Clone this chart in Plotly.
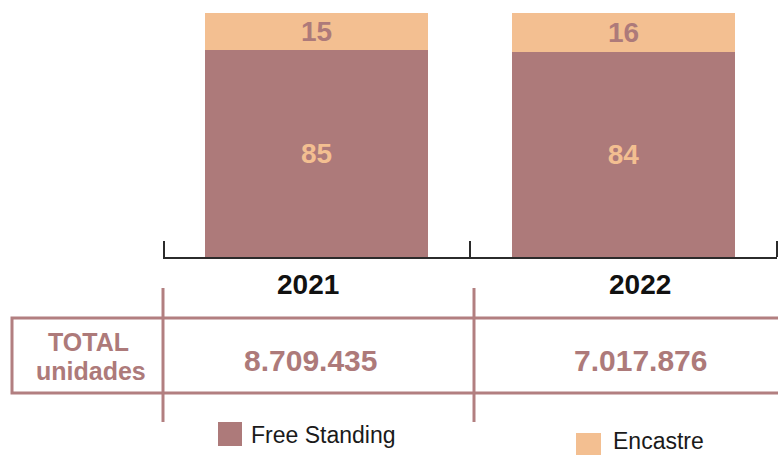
import plotly.graph_objects as go

# ---- data ----
years = ["2021", "2022"]
free_standing = [85, 84]
encastre = [15, 16]
totals = ["8.709.435", "7.017.876"]
series_names = ["Free Standing", "Encastre"]
total_label = ["TOTAL", "unidades"]

ROSE = "#ad7a7a"
PEACH = "#f3bf91"
LINE = "#b27f80"
DARK = "#2b2b2b"
FONT = "Liberation Sans"

W, H = 778, 455
PL, PR, PT, PB = 163, 777, 13, 257


def xp(px):
    return (px - PL) / (PR - PL)


def yp(py):
    return (PB - py) / (PB - PT)


fig = go.Figure()
fig.add_trace(go.Bar(
    x=years, y=free_standing, name=series_names[0],
    marker=dict(color=ROSE, line=dict(width=0)), width=0.727,
    texttemplate="%{y}", textposition="inside", insidetextanchor="middle",
    textangle=0, constraintext="none",
    textfont=dict(color=PEACH, size=28, family=FONT, weight="bold"),
    showlegend=False, hoverinfo="skip"))
fig.add_trace(go.Bar(
    x=years, y=encastre, name=series_names[1],
    marker=dict(color=PEACH, line=dict(width=0)), width=0.727,
    texttemplate="%{y}", textposition="inside", insidetextanchor="middle",
    textangle=0, constraintext="none",
    textfont=dict(color=ROSE, size=28, family=FONT, weight="bold"),
    showlegend=False, hoverinfo="skip"))

shapes = []
annotations = []

# outer boundary ticks of the category axis
for tx in (PL + 1, PR):
    shapes.append(dict(type="line", xref="paper", yref="paper",
                       x0=xp(tx), x1=xp(tx), y0=yp(241), y1=0,
                       line=dict(color=DARK, width=2), layer="below"))

# table box and column lines
shapes.append(dict(type="rect", xref="paper", yref="paper",
                   x0=xp(12), x1=xp(800), y0=yp(318), y1=yp(393),
                   line=dict(color=LINE, width=3), fillcolor="rgba(0,0,0,0)"))
for vx in (163, 474):
    shapes.append(dict(type="line", xref="paper", yref="paper",
                       x0=xp(vx), x1=xp(vx), y0=yp(288), y1=yp(422),
                       line=dict(color=LINE, width=3)))

# year labels & totals
year_cx = [308, 640]
total_cx = [310, 640]
for i, yr in enumerate(years):
    annotations.append(dict(x=xp(year_cx[i]), y=yp(284), xref="paper", yref="paper",
                            text=yr, showarrow=False, xanchor="center", yanchor="middle",
                            font=dict(family=FONT, size=28, color="#111", weight="bold")))
    annotations.append(dict(x=xp(total_cx[i]), y=yp(360), xref="paper", yref="paper",
                            text=totals[i], showarrow=False, xanchor="center", yanchor="middle",
                            font=dict(family=FONT, size=30, color=ROSE, weight="bold")))

annotations.append(dict(x=xp(88), y=yp(342), xref="paper", yref="paper",
                        text=total_label[0], showarrow=False, xanchor="center", yanchor="middle",
                        font=dict(family=FONT, size=25, color=ROSE, weight="bold")))
annotations.append(dict(x=xp(91), y=yp(371), xref="paper", yref="paper",
                        text=total_label[1], showarrow=False, xanchor="center", yanchor="middle",
                        font=dict(family=FONT, size=25, color=ROSE, weight="bold")))

# manual legend
leg = [((218, 422, 242, 446), 249, 435, ROSE),
       ((576, 433, 601, 458), 611, 441, PEACH)]
for name, (box, tx, ty, col) in zip(series_names, leg):
    shapes.append(dict(type="rect", xref="paper", yref="paper",
                       x0=xp(box[0]), x1=xp(box[2]), y0=yp(box[1]), y1=yp(box[3]),
                       line=dict(width=0), fillcolor=col))
    annotations.append(dict(x=xp(tx), y=yp(ty), xref="paper", yref="paper",
                            text=name, showarrow=False, xanchor="left", yanchor="middle",
                            font=dict(family=FONT, size=23, color="#1a1a1a")))

fig.update_layout(
    barmode="stack",
    width=W, height=H, autosize=False,
    margin=dict(l=PL, r=W - PR, t=PT, b=H - PB, pad=0),
    paper_bgcolor="white", plot_bgcolor="white",
    xaxis=dict(type="category", range=[-0.5, 1.5], showline=True, linecolor=DARK,
               linewidth=2, ticks="inside", tickson="boundaries", ticklen=16,
               tickwidth=2, tickcolor=DARK, showticklabels=False, showgrid=False,
               zeroline=False, layer="below traces", fixedrange=True),
    yaxis=dict(range=[0, 100], visible=False, fixedrange=True),
    shapes=shapes, annotations=annotations,
)

fig.write_html("out.html", config={"displayModeBar": False})
